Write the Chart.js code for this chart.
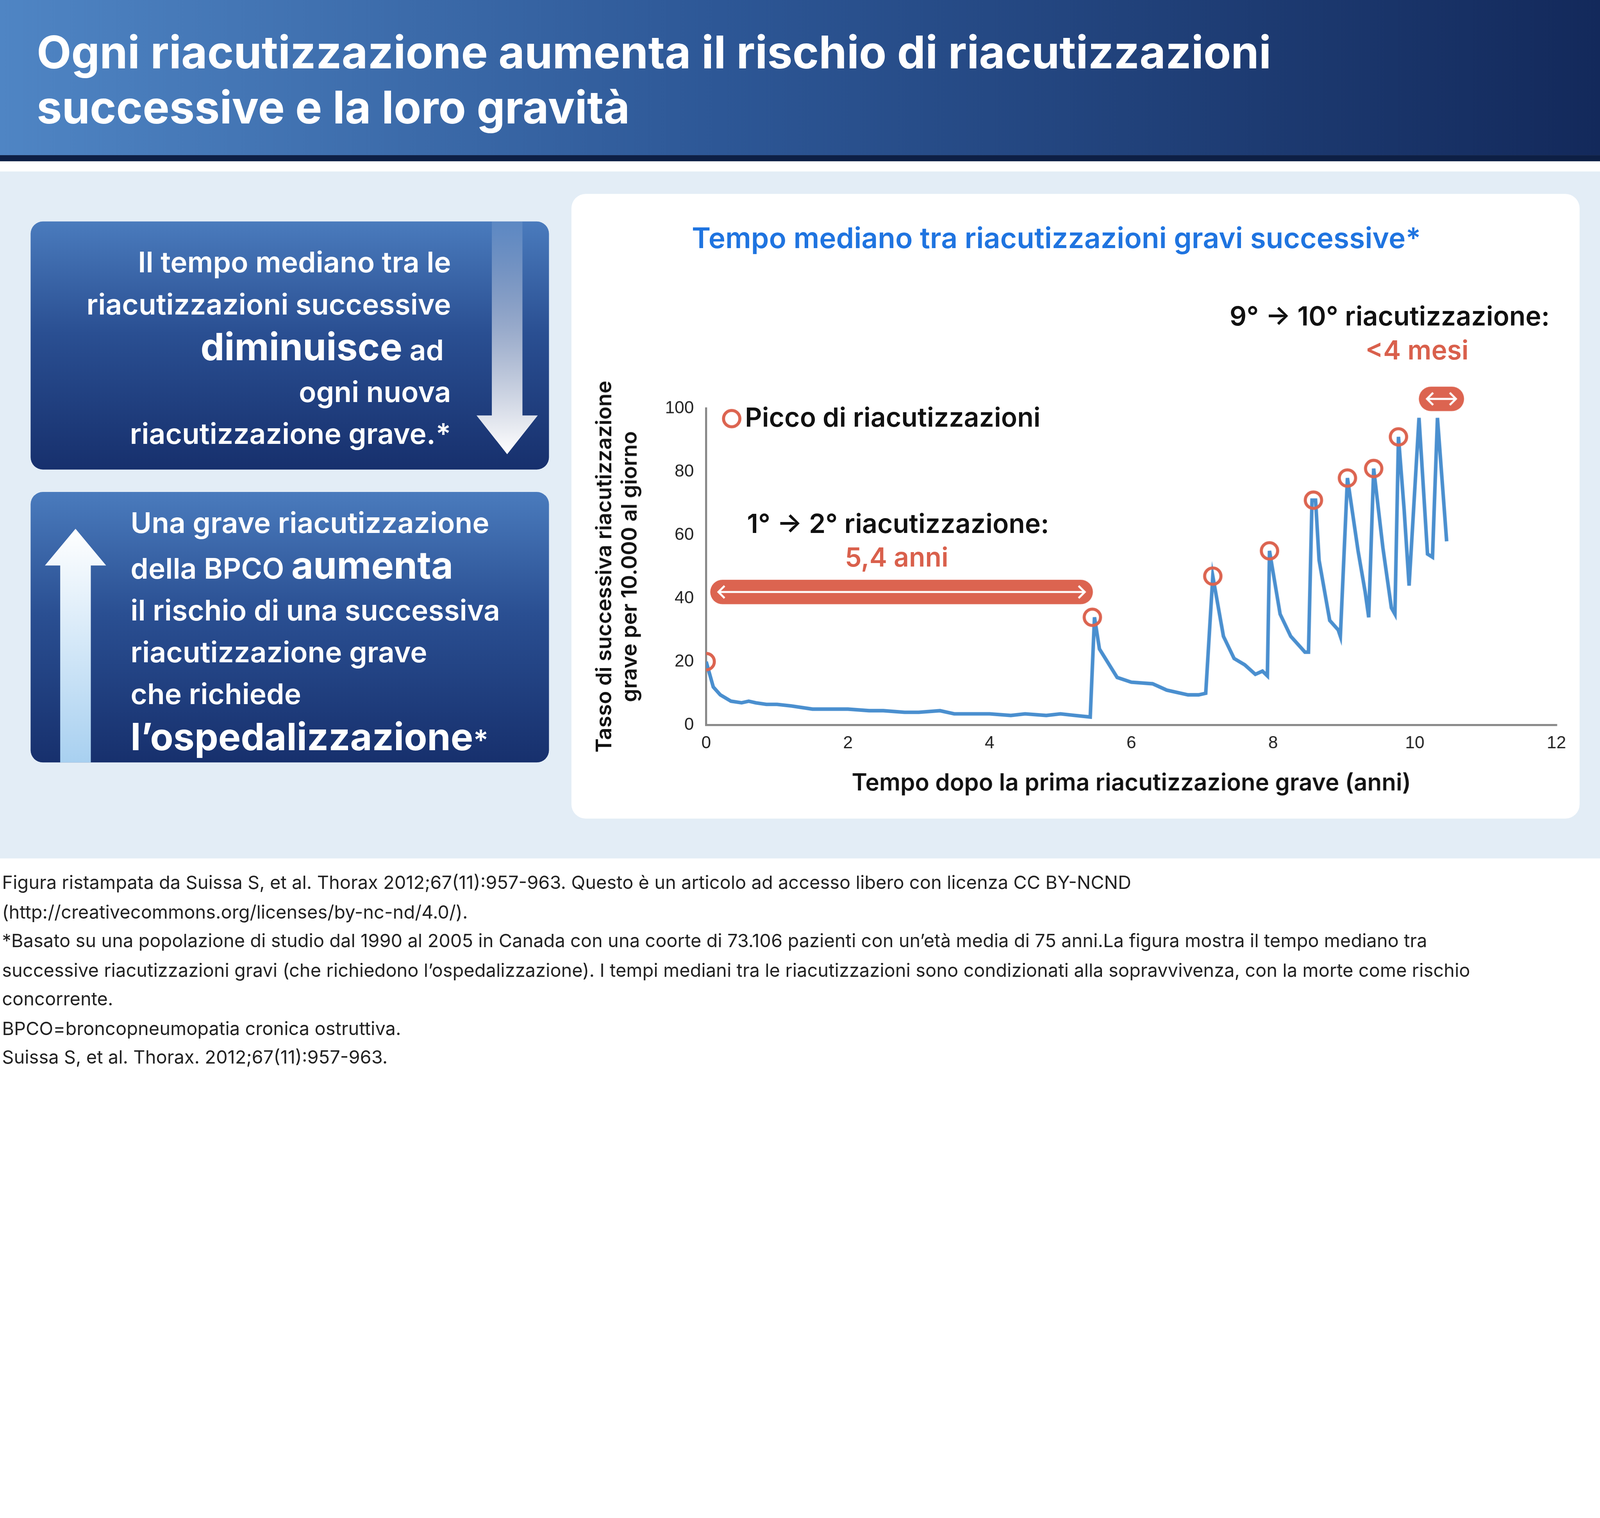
<!DOCTYPE html>
<html><head><meta charset="utf-8">
<script src="https://cdn.jsdelivr.net/npm/chart.js@4"></script>
<style>
html,body{margin:0;padding:0;background:#fff;overflow:hidden}
#wrap{position:absolute;left:0;top:0;width:1568px;height:1057px;transform-origin:0 0;font-family:Inter,"Noto Sans",sans-serif;color:#111}
#head{position:absolute;left:0;top:0;width:1568px;height:152px;background:linear-gradient(90deg,#4f85c4 0%,#2d5796 45%,#13295b 100%);border-bottom:6px solid #0d1f45}
#head h1{margin:0;position:absolute;left:36px;top:24px;color:#fff;font-size:44px;line-height:54px;font-weight:700}
#band{position:absolute;left:0;top:168px;width:1568px;height:673px;background:#e3edf6}
.box{position:absolute;left:30px;width:508px;border-radius:12px;background:linear-gradient(180deg,#4a7bbd 0%,#2a4f92 45%,#17306d 100%);color:#fff;font-weight:600}
#b1{top:217px;height:243px}
#b2{top:482px;height:265px}
.big{font-size:37px;font-weight:700}
#card{position:absolute;left:560px;top:190px;width:988px;height:612px;background:#fff;border-radius:14px}
#card canvas{position:absolute;left:0;top:0}
.lab{position:absolute;font-weight:700;white-space:nowrap}
#foot{position:absolute;left:2px;top:851px;font-size:18px;line-height:28.5px;color:#222;width:1560px;white-space:nowrap}
</style></head><body>
<div id="wrap">
 <div id="head"><h1>Ogni riacutizzazione aumenta il rischio di riacutizzazioni<br>successive e la loro gravità</h1></div>
 <div id="band"></div>
 <div class="box" id="b1">
  <svg style="position:absolute;left:437px;top:0" width="62" height="230"><defs><linearGradient id="ga" x1="0" y1="0" x2="0" y2="1"><stop offset="0" stop-color="#fff" stop-opacity="0.1"/><stop offset="1" stop-color="#fff"/></linearGradient></defs><path d="M15 0 H45 V190 H60 L30 228 L0 190 H15 Z" fill="url(#ga)"/></svg>
  <div style="position:absolute;right:96px;top:20px;text-align:right;font-size:28px;line-height:41px">Il tempo mediano tra le<br>riacutizzazioni successive<br><span class="big">diminuisce</span> ad&nbsp;<br>ogni nuova<br>riacutizzazione grave.*</div>
 </div>
 <div class="box" id="b2">
  <svg style="position:absolute;left:14px;top:36px" width="62" height="230"><defs><linearGradient id="gb" x1="0" y1="1" x2="0" y2="0"><stop offset="0" stop-color="#a8d0f0"/><stop offset="1" stop-color="#fff"/></linearGradient></defs><path d="M15 229 H45 V36 H60 L30 0 L0 36 H15 Z" fill="url(#gb)"/></svg>
  <div style="position:absolute;left:98px;top:10px;font-size:28px;line-height:41px">Una grave riacutizzazione<br>della BPCO <span class="big">aumenta</span><br>il rischio di una successiva<br>riacutizzazione grave<br>che richiede<br><span class="big">l’ospedalizzazione</span>*</div>
 </div>
 <div id="card">
  <canvas id="c"></canvas>
  <div class="lab" style="left:118px;top:26px;color:#1f74e0;font-size:28px;font-weight:600">Tempo mediano tra riacutizzazioni gravi successive*</div>
  <div class="lab" style="left:170px;top:203px;font-size:26px;font-weight:600">Picco di riacutizzazioni</div>
  <div class="lab" style="left:172px;top:307px;font-size:26px;font-weight:600">1° → 2° riacutizzazione:</div>
  <div class="lab" style="left:268px;top:340px;font-size:26px;color:#d9604c;font-weight:600">5,4 anni</div>
  <div class="lab" style="left:645px;top:104px;font-size:26px;font-weight:600">9° → 10° riacutizzazione:</div>
  <div class="lab" style="left:778px;top:137px;font-size:26px;color:#d9604c;font-weight:600">&lt;4 mesi</div>
 </div>
 <div id="foot">Figura ristampata da Suissa S, et al. Thorax 2012;67(11):957-963. Questo è un articolo ad accesso libero con licenza CC BY-NCND<br>(http://creativecommons.org/licenses/by-nc-nd/4.0/).<br>*Basato su una popolazione di studio dal 1990 al 2005 in Canada con una coorte di 73.106 pazienti con un’età media di 75 anni.La figura mostra il tempo mediano tra<br>successive riacutizzazioni gravi (che richiedono l’ospedalizzazione). I tempi mediani tra le riacutizzazioni sono condizionati alla sopravvivenza, con la morte come rischio<br>concorrente.<br>BPCO=broncopneumopatia cronica ostruttiva.<br>Suissa S, et al. Thorax. 2012;67(11):957-963.</div>
</div>
<script>
const SCALE = window.innerWidth / 1568;
document.getElementById('wrap').style.transform = `scale(${SCALE})`;

// rate curve (years, rate per 10,000 per day)
const years = [0, 0.1, 0.2, 0.35, 0.5, 0.6, 0.7, 0.85, 1.0, 1.2, 1.5, 1.7, 2.0, 2.3, 2.5, 2.8, 3.0, 3.3, 3.5, 3.8, 4.0, 4.3, 4.5, 4.8, 5.0, 5.2, 5.42, 5.48, 5.55, 5.8, 6.0, 6.3, 6.5, 6.8, 6.95, 7.05, 7.15, 7.3, 7.45, 7.6, 7.75, 7.85, 7.92, 7.95, 8.1, 8.25, 8.45, 8.5, 8.55, 8.6, 8.65, 8.8, 8.92, 8.95, 9.05, 9.2, 9.3, 9.35, 9.42, 9.55, 9.67, 9.72, 9.77, 9.85, 9.92, 10.06, 10.18, 10.25, 10.32, 10.45];
const rates = [20, 12, 9.5, 7.5, 7, 7.5, 7, 6.5, 6.5, 6, 5, 5, 5, 4.5, 4.5, 4, 4, 4.5, 3.5, 3.5, 3.5, 3, 3.5, 3, 3.5, 3, 2.5, 34, 24, 15, 13.5, 13, 11, 9.5, 9.5, 10, 47, 28, 21, 19, 16, 17, 15.5, 55, 35, 28, 23, 23, 71, 71, 52, 33, 30, 28, 78, 55, 42, 34, 81, 56, 37, 35, 91, 68, 44, 97, 54, 53, 97, 58];
// circled peaks
const peakYears = [0, 5.45, 7.15, 7.95, 8.57, 9.05, 9.42, 9.77];
const peakRates = [20, 34, 47, 55, 71, 78, 81, 91];
const xTicks = [0, 2, 4, 6, 8, 10, 12];
const RED = '#dc6450', BLUE = '#4a8fcf';

// spans marked with red pills: [from, to, y]
const spans = [[0, 5.4, 42], [10.0, 10.35, 103]];

const pills = {
  id: 'pills',
  afterDatasetsDraw(chart) {
    const { ctx, scales: { x, y } } = chart;
    spans.forEach(([a, b, v]) => {
      const short = b - a < 1;
      const x0 = x.getPixelForValue(a) + 4, yc = y.getPixelForValue(v);
      const w = x.getPixelForValue(b) - x.getPixelForValue(a) + (short ? 20 : 0);
      const h = 24;
      ctx.save();
      ctx.fillStyle = RED;
      ctx.beginPath();
      ctx.roundRect(x0, yc - h / 2, w, h, 12);
      ctx.fill();
      ctx.strokeStyle = '#fff'; ctx.lineWidth = 2;
      const l = x0 + 8, rr = x0 + w - 8;
      ctx.beginPath();
      ctx.moveTo(l, yc); ctx.lineTo(rr, yc);
      ctx.moveTo(l + 6, yc - 6); ctx.lineTo(l, yc); ctx.lineTo(l + 6, yc + 6);
      ctx.moveTo(rr - 6, yc - 6); ctx.lineTo(rr, yc); ctx.lineTo(rr - 6, yc + 6);
      ctx.stroke();
      ctx.restore();
    });
    // legend marker
    ctx.save();
    ctx.strokeStyle = RED; ctx.lineWidth = 3;
    ctx.beginPath(); ctx.arc(157, 220, 8, 0, Math.PI * 2); ctx.stroke();
    ctx.restore();
  }
};

const canvas = document.getElementById('c');
canvas.style.width = '988px'; canvas.style.height = '612px';
new Chart(canvas, {
  type: 'scatter',
  data: {
    datasets: [
      { data: peakYears.map((v, i) => ({ x: v, y: peakRates[i] })), pointRadius: 8, pointBorderWidth: 3, pointBorderColor: RED, pointBackgroundColor: 'rgba(0,0,0,0)', showLine: false },
      { data: years.map((v, i) => ({ x: v, y: rates[i] })), showLine: true, borderColor: BLUE, borderWidth: 3.5, pointRadius: 0, tension: 0 },
    ]
  },
  options: {
    responsive: false,
    devicePixelRatio: SCALE * (window.devicePixelRatio || 1),
    animation: false,
    layout: { padding: { left: 20, top: 210, right: 23, bottom: 17 } },
    plugins: { legend: { display: false }, tooltip: { enabled: false } },
    scales: {
      x: {
        type: 'linear', min: 0, max: 12,
        afterBuildTicks: s => { s.ticks = xTicks.map(v => ({ value: v })); },
        grid: { display: false, drawTicks: false },
        border: { color: '#888', width: 2 },
        ticks: { color: '#222', font: { size: 17, family: 'Liberation Sans' }, padding: 8 },
        title: { display: true, text: 'Tempo dopo la prima riacutizzazione grave (anni)', color: '#111', font: { size: 23, weight: '600', family: 'Inter' }, padding: { top: 14 } },
        afterFit: s => { s.height = 75; }
      },
      y: {
        min: 0, max: 100,
        ticks: { stepSize: 20, color: '#222', font: { size: 17, family: 'Liberation Sans' }, padding: 12 },
        grid: { display: false, drawTicks: false },
        border: { color: '#888', width: 2 },
        title: { display: true, text: ['Tasso di successiva riacutizzazione', 'grave per 10.000 al giorno'], color: '#111', font: { size: 21, weight: '600', family: 'Inter' }, padding: 0 },
        afterFit: s => { s.width = 112; }
      }
    }
  },
  plugins: [pills]
});
</script>
</body></html>
